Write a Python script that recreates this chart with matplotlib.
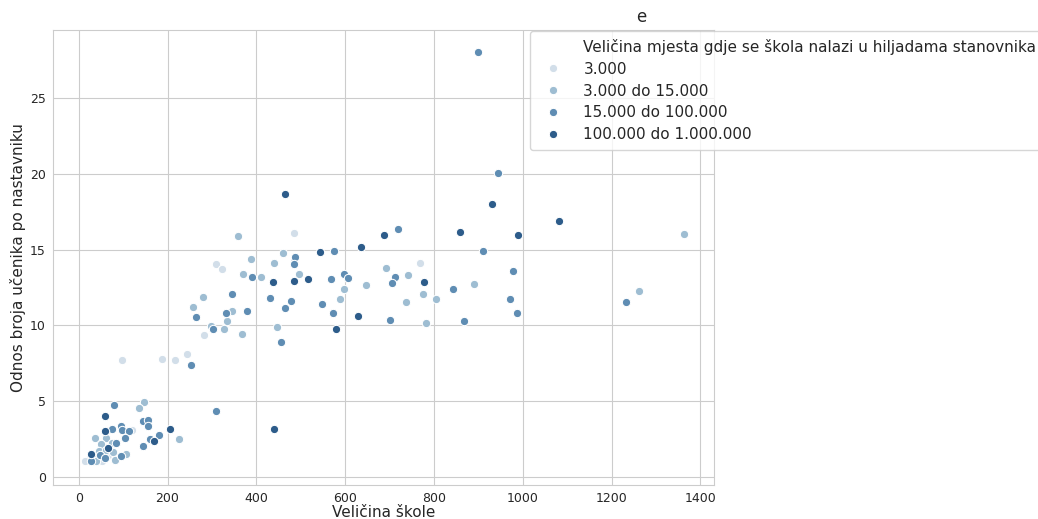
import matplotlib
matplotlib.use("Agg")
import matplotlib.pyplot as plt
from matplotlib.lines import Line2D
import seaborn as sns

sns.set_style("whitegrid")
plt.rcParams['font.family'] = ['DejaVu Sans']

# hue categories (size of the town, thousands of inhabitants)
categories = ["3.000", "3.000 do 15.000", "15.000 do 100.000", "100.000 do 1.000.000"]
colors = ["#d2dee9", "#9ebdd2", "#5f8db3", "#2d5c8a"]

# school size (x) and pupils per teacher (y), one pair of lists per category
x_small = [97, 188, 216, 244, 282, 309, 322, 484, 484, 769, 21, 13.5, 52.5, 66, 121]
y_small = [7.7, 7.81, 7.7, 8.12, 9.39, 14.03, 13.72, 16.1, 14.25, 14.1, 1.12, 1.06, 1.06, 1.45, 3.1]

x_mid = [359, 1364, 459, 389, 439, 370, 410, 497, 691, 742, 647, 597, 890, 1261, 775,
         805, 738, 588, 279.5, 258, 346, 335, 299, 327, 445.5, 367, 783, 146.5, 135, 226,
         37, 61, 51, 75, 46, 62, 77, 38, 40, 81, 106]
y_mid = [15.9, 16.05, 14.8, 14.38, 14.12, 13.43, 13.2, 13.43, 13.81, 13.36, 12.69, 12.43, 12.73, 12.31, 12.1,
         11.76, 11.54, 11.75, 11.85, 11.19, 10.97, 10.3, 9.96, 9.75, 9.9, 9.41, 10.18, 4.97, 4.53, 2.53,
         2.57, 2.57, 2.2, 2.24, 1.74, 1.78, 1.63, 1.3, 1.06, 1.1, 1.52]

x_large = [898.6, 944.5, 720, 574, 486, 484, 911, 979, 390, 568, 597, 606, 712, 705, 345,
           431, 477, 464, 549, 572, 844, 972, 987, 868, 1232, 700, 264.5, 331, 378, 303,
           455, 252, 309, 80, 144, 155.5, 155.5, 74, 95, 97.7, 113.5, 105, 85, 47, 58.6,
           27, 95, 144, 161, 180]
y_large = [28.05, 20.07, 16.36, 14.9, 14.53, 14.05, 14.93, 13.59, 13.2, 13.05, 13.43, 13.15, 13.18, 12.82, 12.09,
           11.81, 11.63, 11.17, 11.43, 10.8, 12.42, 11.72, 10.8, 10.29, 11.52, 10.39, 10.53, 10.84, 10.95, 9.76,
           8.93, 7.41, 4.33, 4.73, 3.72, 3.76, 3.39, 3.16, 3.39, 3.1, 3.05, 2.58, 2.22, 1.45, 1.28,
           1.03, 1.41, 2.02, 2.54, 2.77]

x_city = [464, 930, 858, 990, 1081, 688, 636, 543, 438, 485, 516, 777, 629, 579, 440,
          206, 170, 60, 58.6, 66, 28.5]
y_city = [18.67, 18.05, 16.18, 15.96, 16.87, 16.0, 15.17, 14.86, 12.87, 12.92, 13.06, 12.84, 10.65, 9.75, 3.2,
          3.19, 2.36, 4.05, 3.01, 1.89, 1.52]

xs = [x_small, x_mid, x_large, x_city]
ys = [y_small, y_mid, y_large, y_city]

fig = plt.figure(figsize=(10.38, 5.19), dpi=100)
ax = fig.add_axes([0.051, 0.0655, 0.637, 0.8765])

for x, y, c in zip(xs, ys, colors):
    ax.scatter(x, y, s=36, color=c, edgecolor='white', linewidth=0.75, zorder=3)

ax.set_xlim(-58, 1431)
ax.set_ylim(-0.53, 29.5)
ax.set_xticks([0, 200, 400, 600, 800, 1000, 1200, 1400])
ax.set_yticks([0, 5, 10, 15, 20, 25])
ax.tick_params(labelsize=9, pad=1.5)
ax.set_xlabel("Veličina škole", fontsize=11, labelpad=0)
ax.set_ylabel("Odnos broja učenika po nastavniku", fontsize=11, labelpad=3)

handles = [Line2D([], [], linestyle='none', marker='')]
labels = ["Veličina mjesta gdje se škola nalazi u hiljadama stanovnika"]
for cat, c in zip(categories, colors):
    handles.append(Line2D([], [], linestyle='none', marker='o', markersize=6,
                          markerfacecolor=c, markeredgecolor='white', markeredgewidth=0.75))
    labels.append(cat)
fig.legend(handles, labels, loc='upper left', bbox_to_anchor=(0.5106, 0.94),
           fontsize=11, labelspacing=0.45, handletextpad=1.0, borderaxespad=0,
           borderpad=0.5)

fig.text(641 / 1038, 1 - 17 / 519, "e", ha='center', va='center', fontsize=12)

plt.savefig("out.png", dpi=100)
